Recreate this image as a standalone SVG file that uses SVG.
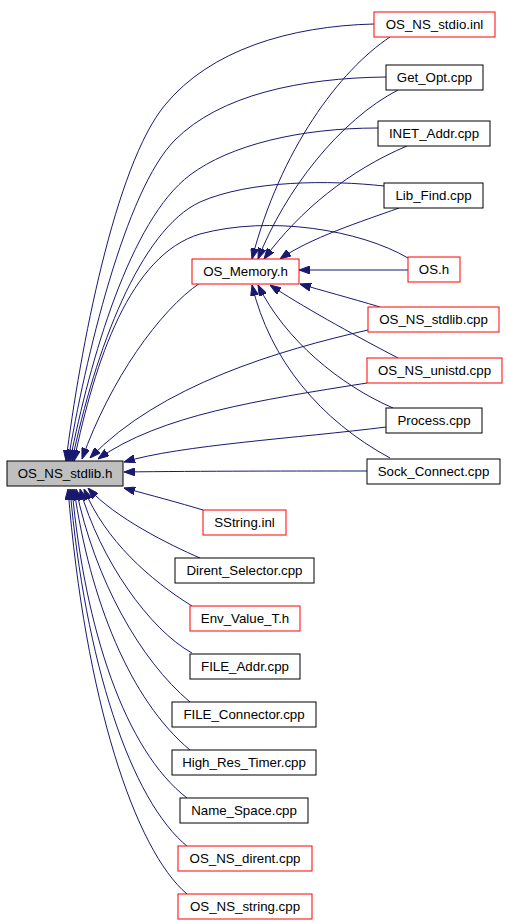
<svg xmlns="http://www.w3.org/2000/svg" width="507" height="923" viewBox="0 0 507 923">
<style>
.n rect{fill:#ffffff;stroke:#000000;stroke-width:1}
.n.r rect{stroke:#ff0000}
.n.g rect{fill:#bfbfbf}
.n text{font-family:"Liberation Sans",Arial,sans-serif;font-size:13.3px;fill:#000000;text-anchor:middle}
.e path{fill:none;stroke:#191970;stroke-width:1;marker-end:url(#a)}
</style>
<defs>
<marker id="a" markerWidth="11" markerHeight="8" refX="11" refY="4" orient="auto" markerUnits="userSpaceOnUse"><path d="M0,0 L11,4 L0,8 z" fill="#191970" stroke="#191970" stroke-width="1"/></marker>
</defs>
<rect width="507" height="923" fill="#ffffff"/>
<g id="edges" class="e">
<path d="M374,24 C290,26 210,50 165,105 C115,165 80,350 66,461"/>
<path d="M386,77 C300,78 220,95 175,140 C125,190 85,360 68,461"/>
<path d="M378,128 C300,128 230,145 190,175 C130,220 90,360 70,461"/>
<path d="M384,186 C330,180 250,180 200,202 C140,230 95,350 72,461"/>
<path d="M408,258 C360,230 270,215 200,234 C130,255 95,360 74,461"/>
<path d="M200,283 C160,310 110,380 82,459"/>
<path d="M368,330 C280,350 160,385 90,458"/>
<path d="M367,383 C260,400 160,415 98,459"/>
<path d="M386,427 C300,438 180,445 124,462"/>
<path d="M367,471 C300,471 200,471 124,472"/>
<path d="M203,510 C180,503 150,495 124,488"/>
<path d="M200,558 C170,545 115,518 88,488"/>
<path d="M192,606 C150,580 105,540 84,489"/>
<path d="M192,653 C150,630 100,560 80,489"/>
<path d="M190,702 C140,660 95,580 76,489"/>
<path d="M190,750 C130,700 90,600 74,489"/>
<path d="M187,798 C125,750 85,630 72,489"/>
<path d="M188,847 C130,800 85,660 70,489"/>
<path d="M187,894 C135,850 85,700 68,489"/>
<path d="M408,270 L299,270"/>
<path d="M390,37 C340,70 280,150 252,259"/>
<path d="M398,90 C340,120 285,190 258,259"/>
<path d="M407,146 C350,170 300,210 264,259"/>
<path d="M399,208 C360,222 310,238 280,259"/>
<path d="M380,307 C350,298 320,290 300,284"/>
<path d="M398,358 C350,333 300,305 270,285"/>
<path d="M393,408 C340,385 285,340 258,285"/>
<path d="M390,458 C320,420 270,360 252,285"/>
</g>
<g id="OS_NS_stdlib_h" class="n g"><rect x="7" y="461" width="116" height="25"/><text x="65" y="478">OS_NS_stdlib.h</text></g>
<g id="OS_Memory_h" class="n r"><rect x="192" y="259" width="107" height="25"/><text x="245.5" y="276">OS_Memory.h</text></g>
<g id="OS_NS_stdio_inl" class="n r"><rect x="374" y="12" width="121" height="25"/><text x="434.5" y="29">OS_NS_stdio.inl</text></g>
<g id="Get_Opt_cpp" class="n"><rect x="386" y="65" width="97" height="25"/><text x="434.5" y="82">Get_Opt.cpp</text></g>
<g id="INET_Addr_cpp" class="n"><rect x="378" y="121" width="112" height="25"/><text x="434" y="138">INET_Addr.cpp</text></g>
<g id="Lib_Find_cpp" class="n"><rect x="384" y="183" width="99" height="25"/><text x="433.5" y="200">Lib_Find.cpp</text></g>
<g id="OS_h" class="n r"><rect x="408" y="257" width="52" height="25"/><text x="434" y="274">OS.h</text></g>
<g id="OS_NS_stdlib_cpp" class="n r"><rect x="368" y="307" width="131" height="25"/><text x="433.5" y="324">OS_NS_stdlib.cpp</text></g>
<g id="OS_NS_unistd_cpp" class="n r"><rect x="367" y="358" width="135" height="25"/><text x="434.5" y="375">OS_NS_unistd.cpp</text></g>
<g id="Process_cpp" class="n"><rect x="386" y="408" width="96" height="25"/><text x="434" y="425">Process.cpp</text></g>
<g id="Sock_Connect_cpp" class="n"><rect x="367" y="459" width="133" height="25"/><text x="433.5" y="476">Sock_Connect.cpp</text></g>
<g id="SString_inl" class="n r"><rect x="203" y="510" width="83" height="25"/><text x="244.5" y="527">SString.inl</text></g>
<g id="Dirent_Selector_cpp" class="n"><rect x="175" y="558" width="139" height="25"/><text x="244.5" y="575">Dirent_Selector.cpp</text></g>
<g id="Env_Value_T_h" class="n r"><rect x="190" y="606" width="110" height="25"/><text x="245" y="623">Env_Value_T.h</text></g>
<g id="FILE_Addr_cpp" class="n"><rect x="190" y="654" width="110" height="25"/><text x="245" y="671">FILE_Addr.cpp</text></g>
<g id="FILE_Connector_cpp" class="n"><rect x="172" y="702" width="144" height="25"/><text x="244" y="719">FILE_Connector.cpp</text></g>
<g id="High_Res_Timer_cpp" class="n"><rect x="172" y="750" width="144" height="25"/><text x="244" y="767">High_Res_Timer.cpp</text></g>
<g id="Name_Space_cpp" class="n"><rect x="180" y="798" width="128" height="25"/><text x="244" y="815">Name_Space.cpp</text></g>
<g id="OS_NS_dirent_cpp" class="n r"><rect x="178" y="846" width="134" height="25"/><text x="245" y="863">OS_NS_dirent.cpp</text></g>
<g id="OS_NS_string_cpp" class="n r"><rect x="178" y="894" width="134" height="25"/><text x="245" y="911">OS_NS_string.cpp</text></g>
</svg>
